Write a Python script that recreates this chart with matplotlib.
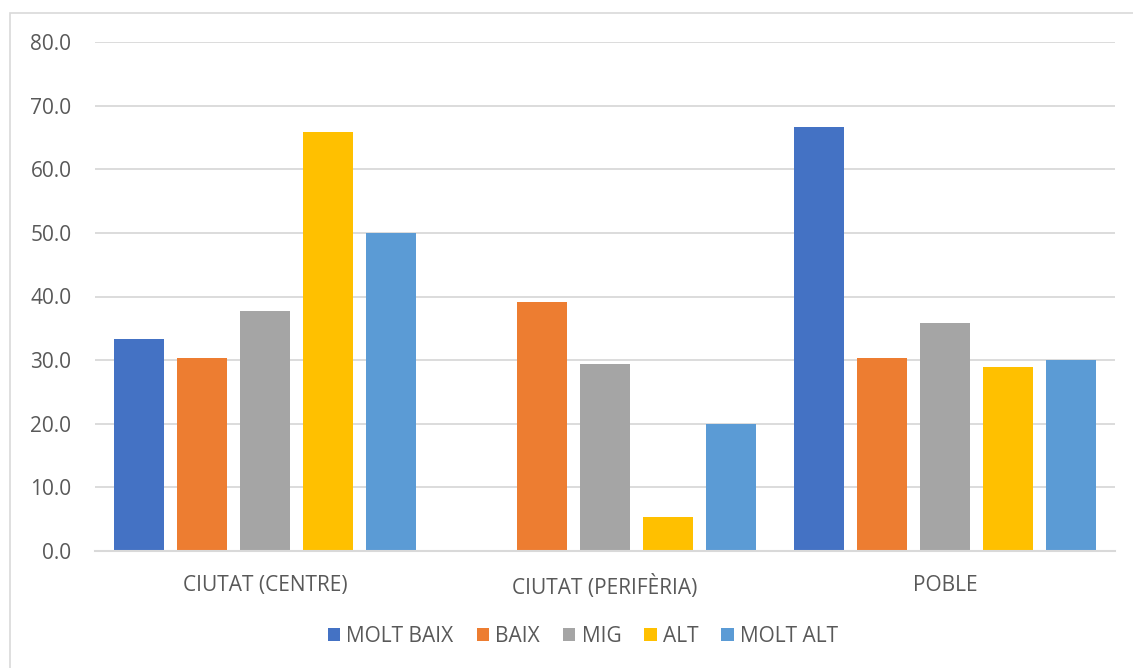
import matplotlib

matplotlib.use("Agg")
import matplotlib.pyplot as plt
import numpy as np
from matplotlib.patches import Rectangle

# Survey results by place of residence and level
categories = ["CIUTAT (CENTRE)", "CIUTAT (PERIFÈRIA)", "POBLE"]
levels = ["MOLT BAIX", "BAIX", "MIG", "ALT", "MOLT ALT"]
molt_baix = [33.3, 0.0, 66.7]
baix = [30.4, 39.1, 30.4]
mig = [37.7, 29.4, 35.8]
alt = [65.8, 5.3, 28.9]
molt_alt = [50.0, 20.0, 30.0]
series = [molt_baix, baix, mig, alt, molt_alt]
colors = ["#4472C4", "#ED7D31", "#A5A5A5", "#FFC000", "#5B9BD5"]

plt.rcParams["font.family"] = ["Open Sans", "DejaVu Sans"]
text_color = "#595959"
fsize = 15

fig = plt.figure(figsize=(11.33, 6.68), dpi=100)
ax = fig.add_axes([95 / 1133, 1 - 551 / 668, 1020 / 1133, 509 / 668])

x = np.arange(len(categories))
step = 63 / 340
width = 50 / 340
for i, (vals, name, col) in enumerate(zip(series, levels, colors)):
    ax.bar(x + (i - 2) * step, vals, width, color=col, label=name, zorder=3)

ax.set_xlim(-0.5, 2.5)
ax.set_ylim(0, 80)
ax.set_yticks(np.arange(0, 81, 10))
ax.set_yticklabels([f"{v:.1f}" for v in np.arange(0, 81, 10)])
ax.set_xticks(x)
ax.set_xticklabels(categories)
ax.tick_params(axis="both", length=0, colors=text_color, labelsize=fsize)
ax.tick_params(axis="y", pad=17)
ax.tick_params(axis="x", pad=17)
ax.grid(axis="y", color="#D9D9D9", linewidth=1.3, zorder=0)
for side in ["top", "right", "left"]:
    ax.spines[side].set_visible(False)
ax.spines["bottom"].set_color("#D9D9D9")
ax.spines["bottom"].set_linewidth(1.5)
ax.spines["bottom"].set_zorder(4)

leg = fig.legend(
    loc="center",
    bbox_to_anchor=(583 / 1133, 1 - 636 / 668),
    ncol=5,
    frameon=False,
    fontsize=fsize,
    handlelength=0.6,
    handleheight=0.6,
    handletextpad=0.3,
    columnspacing=1.1,
)
for t in leg.get_texts():
    t.set_color(text_color)

# chart frame
fig.patches.append(
    Rectangle((10 / 1133, -0.1), 1.2, 1.1 - 13 / 668, transform=fig.transFigure,
              fill=False, edgecolor="#D9D9D9", linewidth=1.2)
)

fig.savefig("out.png", dpi=100)
